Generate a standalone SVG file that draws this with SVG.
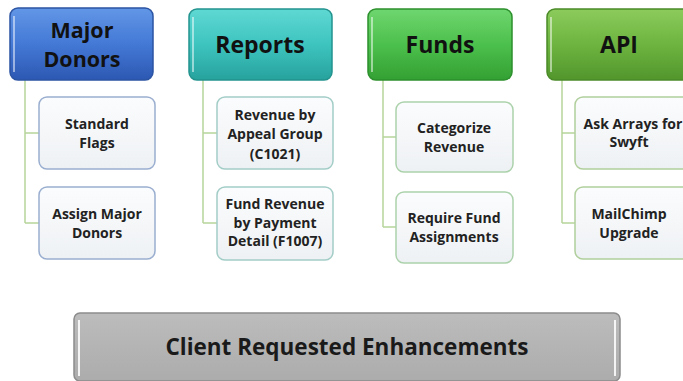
<svg xmlns="http://www.w3.org/2000/svg" width="683" height="381" viewBox="0 0 683 381">
<defs>
<linearGradient id="gBlue" x1="0" y1="0" x2="0" y2="1"><stop offset="0" stop-color="#6296e6"/><stop offset="0.5" stop-color="#4479d6"/><stop offset="1" stop-color="#2c58b2"/></linearGradient>
<linearGradient id="gTeal" x1="0" y1="0" x2="0" y2="1"><stop offset="0" stop-color="#5fd8d3"/><stop offset="0.5" stop-color="#3ec4bf"/><stop offset="1" stop-color="#27a29d"/></linearGradient>
<linearGradient id="gGreen" x1="0" y1="0" x2="0" y2="1"><stop offset="0" stop-color="#6fd66f"/><stop offset="0.5" stop-color="#4cc04c"/><stop offset="1" stop-color="#33a033"/></linearGradient>
<linearGradient id="gApi" x1="0" y1="0" x2="0" y2="1"><stop offset="0" stop-color="#8ccb5c"/><stop offset="0.5" stop-color="#6db440"/><stop offset="1" stop-color="#52962c"/></linearGradient>
<linearGradient id="gChild" x1="0" y1="0" x2="0" y2="1"><stop offset="0" stop-color="#fbfcfd"/><stop offset="1" stop-color="#eef1f4"/></linearGradient>
<linearGradient id="gGray" x1="0" y1="0" x2="0" y2="1"><stop offset="0" stop-color="#bcbcbc"/><stop offset="1" stop-color="#acacac"/></linearGradient>
</defs>
<style>
.hdr{stroke-width:1.5}
.hl{fill:none;stroke:#ffffff;stroke-opacity:0.5;stroke-width:2}
.child{fill:url(#gChild);stroke-width:1.5}
.conn{fill:none;stroke:#b7d49b;stroke-width:1.5}
.ht{font-family:"Open Sans","Liberation Sans",sans-serif;font-weight:bold;font-size:23px;fill:#111;text-anchor:middle}
.ht2{font-family:"Open Sans","Liberation Sans",sans-serif;font-weight:bold;font-size:21.5px;fill:#111;text-anchor:middle}
.ct{font-family:"Open Sans","Liberation Sans",sans-serif;font-weight:bold;font-size:14px;fill:#222;text-anchor:middle}
.bt{font-family:"Open Sans","Liberation Sans",sans-serif;font-weight:bold;font-size:22.5px;fill:#1a1a1a;text-anchor:middle}
</style>

<g id="connectors">
<path class="conn" d="M25,80 V223 M25,133 H39 M25,223 H39"/>
<path class="conn" d="M203,80 V223 M203,133 H217 M203,223 H217"/>
<path class="conn" d="M383,80 V227 M383,137 H396 M383,227 H396"/>
<path class="conn" d="M562,80 V223 M562,133 H575 M562,223 H575"/>
</g>

<g id="major-donors">
<rect class="hdr" x="10" y="8" width="143" height="72" rx="8" fill="url(#gBlue)" stroke="#2b54a3"/>
<path class="hl" d="M14,16 V72"/>
<text class="ht2" x="82" y="38">Major</text>
<text class="ht2" x="82" y="67">Donors</text>
</g>
<g id="standard-flags">
<rect class="child" x="39" y="97" width="116" height="72" rx="8" stroke="#9aaed0"/>
<text class="ct" x="97" y="129">Standard</text>
<text class="ct" x="97" y="148">Flags</text>
</g>
<g id="assign-major-donors">
<rect class="child" x="39" y="187" width="116" height="72" rx="8" stroke="#9aaed0"/>
<text class="ct" x="97" y="219">Assign Major</text>
<text class="ct" x="97" y="238">Donors</text>
</g>

<g id="reports">
<rect class="hdr" x="189" y="9" width="143" height="71" rx="8" fill="url(#gTeal)" stroke="#23938e"/>
<path class="hl" d="M193,17 V72"/>
<text class="ht" x="260" y="53">Reports</text>
</g>
<g id="revenue-by-appeal-group">
<rect class="child" x="217" y="97" width="116" height="72" rx="8" stroke="#a3cdc7"/>
<text class="ct" x="275" y="120">Revenue by</text>
<text class="ct" x="275" y="139">Appeal Group</text>
<text class="ct" x="275" y="159">(C1021)</text>
</g>
<g id="fund-revenue-by-payment-detail">
<rect class="child" x="217" y="187" width="116" height="73" rx="8" stroke="#a3cdc7"/>
<text class="ct" x="275" y="209">Fund Revenue</text>
<text class="ct" x="275" y="228">by Payment</text>
<text class="ct" x="275" y="246">Detail (F1007)</text>
</g>

<g id="funds">
<rect class="hdr" x="368" y="9" width="144" height="71" rx="8" fill="url(#gGreen)" stroke="#2c902c"/>
<path class="hl" d="M372,17 V72"/>
<text class="ht" x="440" y="53">Funds</text>
</g>
<g id="categorize-revenue">
<rect class="child" x="396" y="102" width="117" height="70" rx="8" stroke="#acd2ac"/>
<text class="ct" x="454" y="133">Categorize</text>
<text class="ct" x="454" y="152">Revenue</text>
</g>
<g id="require-fund-assignments">
<rect class="child" x="396" y="192" width="117" height="71" rx="8" stroke="#acd2ac"/>
<text class="ct" x="454" y="223">Require Fund</text>
<text class="ct" x="454" y="242">Assignments</text>
</g>

<g id="api">
<rect class="hdr" x="547" y="9" width="144" height="71" rx="8" fill="url(#gApi)" stroke="#4a8a27"/>
<path class="hl" d="M551,17 V72"/>
<text class="ht" x="619" y="53">API</text>
</g>
<g id="ask-arrays-for-swyft">
<rect class="child" x="575" y="97" width="118" height="72" rx="8" stroke="#b0cf9c"/>
<text class="ct" x="633" y="129">Ask Arrays for</text>
<text class="ct" x="629" y="147">Swyft</text>
</g>
<g id="mailchimp-upgrade">
<rect class="child" x="575" y="187" width="118" height="72" rx="8" stroke="#b0cf9c"/>
<text class="ct" x="629" y="219">MailChimp</text>
<text class="ct" x="629" y="238">Upgrade</text>
</g>

<g id="client-requested-enhancements">
<rect x="74" y="313" width="546" height="68" rx="6" fill="url(#gGray)" stroke="#8c8c8c" stroke-width="1.5"/>
<path d="M79,320 V376 M615,320 V376" fill="none" stroke="#ffffff" stroke-width="2" stroke-opacity="0.85"/>
<text class="bt" x="347" y="355">Client Requested Enhancements</text>
</g>
</svg>
